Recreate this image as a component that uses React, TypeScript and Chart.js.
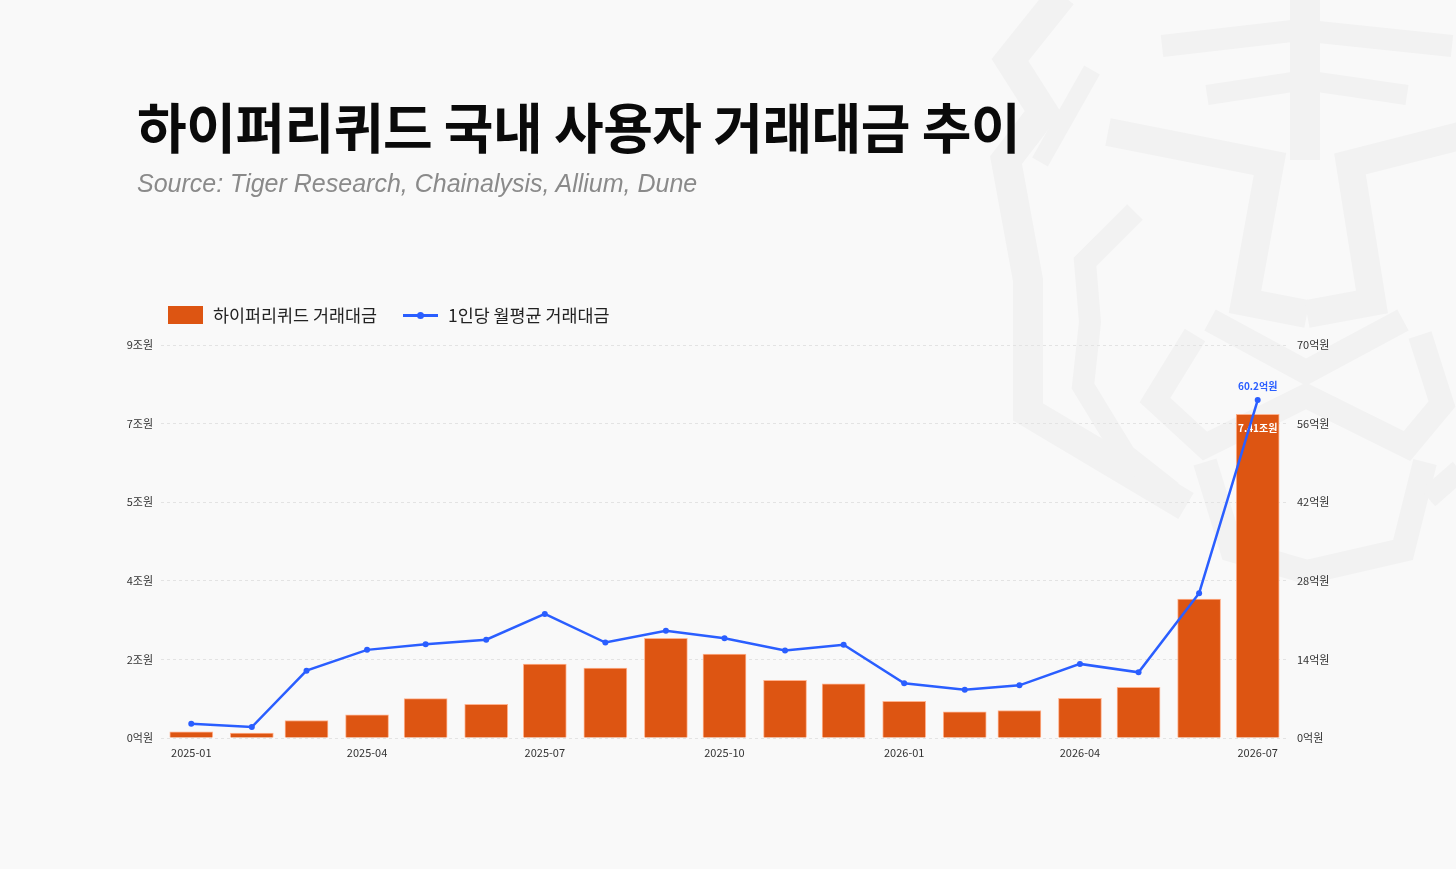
import React, { useEffect, useRef } from 'react';
import { Chart, registerables } from 'chart.js';

Chart.register(...registerables);

const months = [
  '2025-01', '2025-02', '2025-03', '2025-04', '2025-05', '2025-06', '2025-07', '2025-08', '2025-09', '2025-10',
  '2025-11', '2025-12', '2026-01', '2026-02', '2026-03', '2026-04', '2026-05', '2026-06', '2026-07',
];
// 하이퍼리퀴드 거래대금 (조원)
const volumeTrillion = [0.14, 0.11, 0.4, 0.53, 0.9, 0.77, 1.69, 1.6, 2.28, 1.92, 1.32, 1.24, 0.84, 0.6, 0.63, 0.91, 1.16, 3.18, 7.41];
// 1인당 월평균 거래대금 (억원)
const perUserHundredMillion = [2.55, 1.96, 12.0, 15.7, 16.7, 17.5, 22.1, 17.0, 19.1, 17.75, 15.6, 16.6, 9.74, 8.6, 9.38, 13.2, 11.7, 25.8, 60.2];
const xTickMonths = ['2025-01', '2025-04', '2025-07', '2025-10', '2026-01', '2026-04', '2026-07'];
const leftTickValues = [0, 1.8, 3.6, 5.4, 7.2, 9];
const leftTickLabels = ['0억원', '2조원', '4조원', '5조원', '7조원', '9조원'];
const rightTickValues = [0, 14, 28, 42, 56, 70];

const TITLE = '하이퍼리퀴드 국내 사용자 거래대금 추이';
const SUBTITLE = 'Source: Tiger Research, Chainalysis, Allium, Dune';
const BAR_LABEL = '하이퍼리퀴드 거래대금';
const LINE_LABEL = '1인당 월평균 거래대금';

const ORANGE = '#DD5512';
const BLUE = '#2A5EFF';
const W = 1456;
const H = 869;
const KR = '"Noto Sans CJK KR", "Noto Sans", sans-serif';

const dayOf = (m: string) => {
  const [y, mo] = m.split('-').map(Number);
  return Date.UTC(y, mo - 1, 1) / 86400000;
};
const monthOfDay = (d: number) => {
  const dt = new Date(Math.round(d) * 86400000);
  return `${dt.getUTCFullYear()}-${String(dt.getUTCMonth() + 1).padStart(2, '0')}`;
};

// decorative watermark strokes (tiger face), page coordinates
const watermark: { w: number; pts: number[][] }[] = [
  { w: 30, pts: [[1062, -5], [1010, 60], [1043, 112], [1006, 160], [1028, 280], [1028, 412], [1186, 506]] },
  { w: 18, pts: [[1092, 70], [1040, 162]] },
  { w: 22, pts: [[1135, 212], [1085, 262], [1090, 322], [1083, 386], [1125, 455], [1172, 492]] },
  { w: 22, pts: [[1162, 46], [1300, 30], [1452, 46]] },
  { w: 20, pts: [[1207, 95], [1305, 80], [1407, 95]] },
  { w: 30, pts: [[1305, -5], [1305, 160]] },
  { w: 28, pts: [[1108, 132], [1270, 164], [1245, 302], [1307, 314]] },
  { w: 28, pts: [[1460, 136], [1350, 164], [1372, 302], [1307, 314]] },
  { w: 24, pts: [[1210, 320], [1306, 372], [1403, 320]] },
  { w: 24, pts: [[1195, 335], [1155, 400], [1205, 446], [1306, 396], [1407, 446], [1442, 404], [1420, 335]] },
  { w: 24, pts: [[1205, 462], [1232, 550], [1307, 572], [1403, 550], [1425, 462]] },
  { w: 22, pts: [[1460, 470], [1428, 498]] },
];

const valueLabelPlugin = {
  id: 'valueLabels',
  afterDatasetDraw(chart: any, args: any) {
    const meta = args.meta;
    const ds = chart.data.datasets[args.index];
    const last = meta.data[meta.data.length - 1];
    if (!last) return;
    const ctx = chart.ctx;
    ctx.save();
    ctx.textAlign = 'center';
    ctx.textBaseline = 'middle';
    ctx.font = `bold 10px ${KR}`;
    if (ds.type === 'bar') {
      ctx.fillStyle = '#ffffff';
      ctx.fillText(`${volumeTrillion[volumeTrillion.length - 1].toFixed(2)}조원`, last.x, last.y + 14);
    } else {
      ctx.fillStyle = BLUE;
      ctx.fillText(`${perUserHundredMillion[perUserHundredMillion.length - 1].toFixed(1)}억원`, last.x, last.y - 14);
    }
    ctx.restore();
  },
};

export default function App() {
  const bgRef = useRef<HTMLCanvasElement>(null);
  const chartRef = useRef<HTMLCanvasElement>(null);

  useEffect(() => {
    document.body.style.margin = '0';
    const bg = bgRef.current;
    if (bg) {
      const ctx = bg.getContext('2d')!;
      ctx.clearRect(0, 0, W, H);
      ctx.strokeStyle = '#f2f2f2';
      ctx.lineJoin = 'miter';
      ctx.lineCap = 'butt';
      for (const s of watermark) {
        ctx.lineWidth = s.w;
        ctx.beginPath();
        s.pts.forEach(([x, y], i) => (i === 0 ? ctx.moveTo(x, y) : ctx.lineTo(x, y)));
        ctx.stroke();
      }
    }
    if (!chartRef.current) return;
    const d0 = dayOf(months[0]);
    const dN = dayOf(months[months.length - 1]);
    const tickFont = { family: KR, size: 11 };
    const chart = new Chart(chartRef.current, {
      type: 'bar',
      data: {
        datasets: [
          {
            type: 'line',
            label: LINE_LABEL,
            data: months.map((m, i) => ({ x: dayOf(m), y: perUserHundredMillion[i] })),
            yAxisID: 'y1',
            borderColor: BLUE,
            backgroundColor: BLUE,
            borderWidth: 2.5,
            pointRadius: 3,
            pointHoverRadius: 3,
            pointBorderWidth: 0,
            tension: 0,
            order: 0,
          } as any,
          {
            type: 'bar',
            label: BAR_LABEL,
            data: months.map((m, i) => ({ x: dayOf(m), y: volumeTrillion[i] })),
            yAxisID: 'y',
            backgroundColor: ORANGE,
            borderColor: 'rgba(255,170,130,0.9)',
            borderWidth: 1,
            barThickness: 43,
            order: 1,
          } as any,
        ],
      },
      options: {
        responsive: false,
        animation: false,
        events: [],
        layout: { padding: { top: 345, left: 0, right: 0, bottom: 0 } },
        plugins: {
          legend: { display: false },
          tooltip: { enabled: false },
        },
        scales: {
          x: {
            type: 'linear',
            offset: false,
            min: d0 - 15.5,
            max: dN + 15,
            grid: { display: false, drawTicks: false },
            border: { display: false },
            afterBuildTicks: (s: any) => {
              s.ticks = xTickMonths.map((m) => ({ value: dayOf(m) }));
            },
            afterFit: (s: any) => {
              s.height = H - 738;
            },
            ticks: {
              autoSkip: false,
              maxRotation: 0,
              padding: 8,
              color: '#333',
              font: tickFont,
              callback: (v: any) => monthOfDay(Number(v)),
            },
          },
          y: {
            position: 'left',
            min: 0,
            max: 9,
            afterBuildTicks: (s: any) => {
              s.ticks = leftTickValues.map((v) => ({ value: v }));
            },
            afterFit: (s: any) => {
              s.width = 161;
            },
            grid: { color: '#e3e3e3', drawTicks: false, lineWidth: 1 },
            border: { display: false, dash: [3, 3] },
            ticks: {
              padding: 8,
              color: '#333',
              font: tickFont,
              callback: (_v: any, i: number) => leftTickLabels[i],
            },
          },
          y1: {
            position: 'right',
            min: 0,
            max: 70,
            afterBuildTicks: (s: any) => {
              s.ticks = rightTickValues.map((v) => ({ value: v }));
            },
            afterFit: (s: any) => {
              s.width = W - 1287;
            },
            grid: { drawOnChartArea: false, drawTicks: false },
            border: { display: false },
            ticks: {
              padding: 10,
              color: '#333',
              font: tickFont,
              callback: (v: any) => `${v}억원`,
            },
          },
        },
      } as any,
      plugins: [valueLabelPlugin],
    });
    return () => chart.destroy();
  }, []);

  const legendText: React.CSSProperties = {
    position: 'absolute',
    top: 302,
    fontFamily: KR,
    fontSize: 17.4,
    lineHeight: '26px',
    color: '#222',
    whiteSpace: 'nowrap',
  };

  return (
    <div style={{ position: 'relative', width: W, height: H, background: '#f9f9f9', overflow: 'hidden' }}>
      <canvas ref={bgRef} width={W} height={H} style={{ position: 'absolute', left: 0, top: 0 }} />
      <div
        style={{
          position: 'absolute',
          left: 137,
          top: 99,
          fontFamily: KR,
          fontWeight: 700,
          fontSize: 54,
          lineHeight: '54px',
          letterSpacing: '-0.5px',
          color: '#0a0a0a',
          whiteSpace: 'nowrap',
        }}
      >
        {TITLE}
      </div>
      <div
        style={{
          position: 'absolute',
          left: 137,
          top: 168,
          fontFamily: '"Liberation Sans", Arial, sans-serif',
          fontStyle: 'italic',
          fontSize: 25,
          lineHeight: '30px',
          color: '#8a8a8a',
          whiteSpace: 'nowrap',
        }}
      >
        {SUBTITLE}
      </div>
      <canvas ref={chartRef} width={W} height={H} style={{ position: 'absolute', left: 0, top: 0 }} />
      <div style={{ position: 'absolute', left: 168, top: 306, width: 35, height: 18, background: ORANGE }} />
      <div style={{ ...legendText, left: 213 }}>{BAR_LABEL}</div>
      <div style={{ position: 'absolute', left: 403, top: 314, width: 35, height: 2.5, background: BLUE }} />
      <div
        style={{ position: 'absolute', left: 417, top: 311.5, width: 7, height: 7, borderRadius: 4, background: BLUE }}
      />
      <div style={{ ...legendText, left: 448 }}>{LINE_LABEL}</div>
    </div>
  );
}
